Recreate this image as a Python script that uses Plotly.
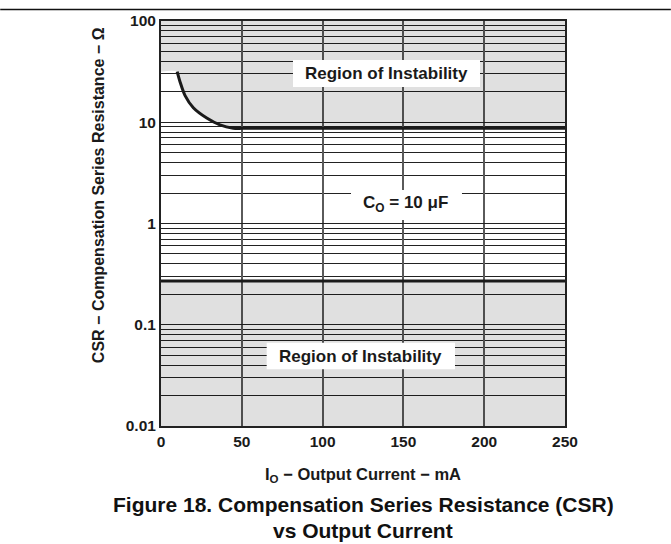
import plotly.graph_objects as go

# ---- data ----
current_mA = [10, 11.8, 14.9, 20, 28.3, 36.5, 44.7, 51, 250]
csr_upper_ohm = [31.6, 25, 18.3, 13.9, 11, 9.4, 8.74, 8.7, 8.7]
csr_lower_ohm = 0.27
x_ticks = [0, 50, 100, 150, 200, 250]
y_decades = [0.01, 0.1, 1, 10, 100]
y_decade_labels = ["0.01", "0.1", "1", "10", "100"]
x_range = [0, 250]
y_min, y_max = 0.01, 100

# minor log gridlines 2..9 per decade
y_minor = [d * m for d in y_decades[:-1] for m in range(2, 10)]

FONT = "Liberation Sans, Arial, Helvetica, sans-serif"
INK = "#1a1a1a"
FILL = "rgba(0,0,0,0.12)"

fig = go.Figure()

# upper region of instability (boundary + fill up to top)
fig.add_trace(go.Scatter(x=[x_range[0]] + current_mA, y=[csr_upper_ohm[0]] + csr_upper_ohm,
                         mode="lines", line=dict(width=0, shape="spline", smoothing=0.8),
                         hoverinfo="skip", showlegend=False))
fig.add_trace(go.Scatter(x=x_range, y=[y_max, y_max], mode="lines", line=dict(width=0),
                         fill="tonexty", fillcolor=FILL, hoverinfo="skip", showlegend=False))
# lower region of instability
fig.add_trace(go.Scatter(x=x_range, y=[y_min, y_min], mode="lines", line=dict(width=0),
                         hoverinfo="skip", showlegend=False))
fig.add_trace(go.Scatter(x=x_range, y=[csr_lower_ohm, csr_lower_ohm], mode="lines",
                         line=dict(width=3, color=INK), fill="tonexty", fillcolor=FILL,
                         showlegend=False))
# upper boundary curve
fig.add_trace(go.Scatter(x=current_mA, y=csr_upper_ohm, mode="lines",
                         line=dict(width=3, color=INK, shape="spline", smoothing=0.8),
                         showlegend=False))

fig.update_xaxes(range=x_range, tickvals=x_ticks, showgrid=True, gridcolor="#5a5a5a",
                 gridwidth=1.5, zeroline=False, showline=True, mirror=True,
                 linecolor="#222222", linewidth=2, ticks="",
                 tickfont=dict(family=FONT, size=15.5, color=INK, weight="bold"))
fig.update_yaxes(type="log", range=[-2, 2], tickvals=y_decades, ticktext=y_decade_labels,
                 showgrid=True, gridcolor="#222222", gridwidth=1, zeroline=False,
                 minor=dict(tickvals=y_minor, showgrid=True, gridcolor="#222222",
                            gridwidth=1, ticks=""),
                 showline=True, mirror=True, linecolor="#222222", linewidth=2, ticks="",
                 tickfont=dict(family=FONT, size=15.5, color=INK, weight="bold"))

# white label boxes (hide the grid behind the labels)
boxes = [(0.3267, 0.7896, 0.837, 0.9037),
         (0.2616, 0.7277, 0.140, 0.2057),
         (0.4703, 0.7450, 0.5086, 0.5827)]
shapes = [dict(type="rect", xref="paper", yref="paper", x0=a, x1=b, y0=c, y1=d,
               fillcolor="white", line=dict(width=0), layer="above") for a, b, c, d in boxes]
# rule line at the top of the page
shapes.append(dict(type="line", xref="paper", yref="paper", x0=-0.398, x1=1.262,
                   y0=1.0285, y1=1.0285, line=dict(color="#111111", width=1.5),
                   layer="above"))

lab = dict(family=FONT, size=17, color=INK, weight="bold")
C = dict(xref="paper", yref="paper", showarrow=False, xanchor="center", yanchor="middle")
annotations = [
    dict(text="Region of Instability", x=0.558, y=0.870, font=lab, **C),
    dict(text="Region of Instability", x=0.4946, y=0.1728, font=lab, **C),
    dict(text="C<sub>O</sub> = 10 μF", x=0.604, y=0.548, font=lab, **C),
    dict(text="I<sub>O</sub> − Output Current − mA", x=0.5, y=-0.120,
         font=dict(family=FONT, size=16.5, color=INK, weight="bold"), **C),
    dict(text="CSR − Compensation Series Resistance − Ω", x=-0.156, y=0.570, textangle=-90,
         font=dict(family=FONT, size=16, color=INK, weight="bold"), **C),
    dict(text="Figure 18. Compensation Series Resistance (CSR)", x=0.5, y=-0.195,
         font=dict(family=FONT, size=21, color="#111111", weight="bold"), **C),
    dict(text="vs Output Current", x=0.5, y=-0.257,
         font=dict(family=FONT, size=21, color="#111111", weight="bold"), **C),
]

fig.update_layout(width=671, height=544, autosize=False,
                  margin=dict(l=161, r=106, t=21, b=118),
                  paper_bgcolor="white", plot_bgcolor="white",
                  shapes=shapes, annotations=annotations, showlegend=False)

fig.write_html("out.html", config={"displayModeBar": False},
               post_script="document.body.style.margin='0px';")
